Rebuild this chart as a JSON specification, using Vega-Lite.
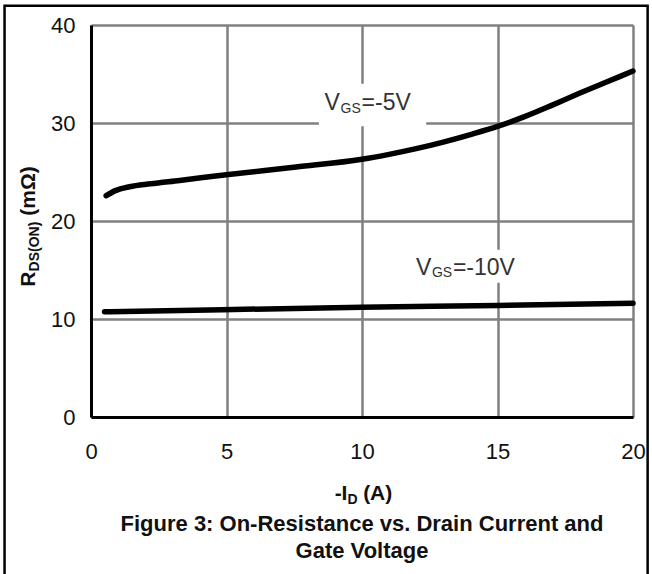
{
  "$schema": "https://vega.github.io/schema/vega-lite/v6.json",
  "width": 542,
  "height": 392,
  "autosize": {"type": "none"},
  "padding": {"left": 91, "top": 25, "right": 19, "bottom": 157},
  "background": "white",
  "config": {"view": {"stroke": null}, "font": "Liberation Sans"},
  "datasets": {
    "curves": [
      {"vgs": "-5V", "id": 0.56, "r": 22.58},
      {"vgs": "-5V", "id": 0.9, "r": 23.1},
      {"vgs": "-5V", "id": 1.42, "r": 23.5},
      {"vgs": "-5V", "id": 2.2, "r": 23.8},
      {"vgs": "-5V", "id": 3.27, "r": 24.14},
      {"vgs": "-5V", "id": 4.99, "r": 24.72},
      {"vgs": "-5V", "id": 7.57, "r": 25.51},
      {"vgs": "-5V", "id": 10.0, "r": 26.3},
      {"vgs": "-5V", "id": 11.0, "r": 26.8},
      {"vgs": "-5V", "id": 12.0, "r": 27.38},
      {"vgs": "-5V", "id": 13.0, "r": 28.05},
      {"vgs": "-5V", "id": 14.0, "r": 28.82},
      {"vgs": "-5V", "id": 15.0, "r": 29.65},
      {"vgs": "-5V", "id": 16.0, "r": 30.65},
      {"vgs": "-5V", "id": 17.0, "r": 31.8},
      {"vgs": "-5V", "id": 18.0, "r": 33.0},
      {"vgs": "-5V", "id": 19.0, "r": 34.15},
      {"vgs": "-5V", "id": 20.0, "r": 35.3},
      {"vgs": "-10V", "id": 0.5, "r": 10.74},
      {"vgs": "-10V", "id": 4.85, "r": 10.95},
      {"vgs": "-10V", "id": 10.0, "r": 11.19},
      {"vgs": "-10V", "id": 15.0, "r": 11.38},
      {"vgs": "-10V", "id": 20.0, "r": 11.6}
    ],
    "boxes": [
      {"label": "-5V", "x": 8.41, "x2": 12.37, "y": 34.0, "y2": 29.67},
      {"label": "-10V", "x": 11.79, "x2": 15.81, "y": 17.07, "y2": 13.7}
    ],
    "frame": [
      {"x": -3.19, "x2": 20.54, "y": 41.97, "y2": -16.6}
    ],
    "ann": [
      {"key": "v5", "x": 8.62, "y": 31.3},
      {"key": "v10", "x": 11.99, "y": 14.52},
      {"key": "xt", "x": 8.99, "y": -8.45},
      {"key": "yt", "x": -2.08, "y": 13.3},
      {"key": "cap", "x": 10.0, "y": -11.6}
    ]
  },
  "layer": [
    {
      "data": {"name": "boxes"},
      "mark": {"type": "rect", "fill": "white", "stroke": null, "clip": false},
      "encoding": {
        "x": {"field": "x", "type": "quantitative", "scale": {"domain": [0, 20], "nice": false, "zero": false},
          "axis": {"values": [0, 5, 10, 15, 20], "title": null, "grid": true, "gridColor": "#808080", "gridWidth": 2.5, "gridOpacity": 1,
            "domain": true, "domainColor": "#000000", "domainWidth": 3, "ticks": false, "labelFontSize": 22, "labelFont": "Liberation Sans",
            "labelColor": "#111111", "labelPadding": 24, "labelFlush": false, "labelOverlap": false}},
        "x2": {"field": "x2"},
        "y": {"field": "y", "type": "quantitative", "scale": {"domain": [0, 40], "nice": false, "zero": false},
          "axis": {"values": [0, 10, 20, 30, 40], "title": null, "grid": true, "gridColor": "#808080", "gridWidth": 2.5, "gridOpacity": 1,
            "domain": true, "domainColor": "#000000", "domainWidth": 3, "ticks": false, "labelFontSize": 22, "labelFont": "Liberation Sans",
            "labelColor": "#111111", "labelPadding": 16, "labelFlush": false, "labelOverlap": false}},
        "y2": {"field": "y2"}
      }
    },
    {
      "data": {"name": "frame"},
      "mark": {"type": "rect", "fill": null, "stroke": "#000000", "strokeWidth": 2.5, "clip": false},
      "encoding": {
        "x": {"field": "x", "type": "quantitative"},
        "x2": {"field": "x2"},
        "y": {"field": "y", "type": "quantitative"},
        "y2": {"field": "y2"}
      }
    },
    {
      "data": {"name": "curves"},
      "mark": {"type": "line", "color": "#000000", "strokeWidth": 5.5, "strokeCap": "round", "interpolate": "monotone", "clip": false},
      "encoding": {
        "x": {"field": "id", "type": "quantitative"},
        "y": {"field": "r", "type": "quantitative"},
        "detail": {"field": "vgs"}
      }
    },
    {
      "data": {"name": "ann"},
      "transform": [{"filter": "datum.key === 'v5' || datum.key === 'v10'"}],
      "mark": {"type": "text", "text": "V", "align": "left", "baseline": "alphabetic", "fontSize": 23, "color": "#333333", "clip": false},
      "encoding": {"x": {"field": "x", "type": "quantitative"}, "y": {"field": "y", "type": "quantitative"}}
    },
    {
      "data": {"name": "ann"},
      "transform": [{"filter": "datum.key === 'v5' || datum.key === 'v10'"}],
      "mark": {"type": "text", "text": "GS", "align": "left", "baseline": "alphabetic", "fontSize": 14, "dx": 16, "dy": 2.5, "color": "#333333", "clip": false},
      "encoding": {"x": {"field": "x", "type": "quantitative"}, "y": {"field": "y", "type": "quantitative"}}
    },
    {
      "data": {"name": "ann"},
      "transform": [{"filter": "datum.key === 'v5'"}],
      "mark": {"type": "text", "text": "=-5V", "align": "left", "baseline": "alphabetic", "fontSize": 23, "dx": 37, "color": "#333333", "clip": false},
      "encoding": {"x": {"field": "x", "type": "quantitative"}, "y": {"field": "y", "type": "quantitative"}}
    },
    {
      "data": {"name": "ann"},
      "transform": [{"filter": "datum.key === 'v10'"}],
      "mark": {"type": "text", "text": "=-10V", "align": "left", "baseline": "alphabetic", "fontSize": 23, "dx": 37, "color": "#333333", "clip": false},
      "encoding": {"x": {"field": "x", "type": "quantitative"}, "y": {"field": "y", "type": "quantitative"}}
    },
    {
      "data": {"name": "ann"},
      "transform": [{"filter": "datum.key === 'xt'"}],
      "mark": {"type": "text", "text": "-I", "align": "left", "baseline": "alphabetic", "fontSize": 21, "fontWeight": "bold", "color": "#111111", "clip": false},
      "encoding": {"x": {"field": "x", "type": "quantitative"}, "y": {"field": "y", "type": "quantitative"}}
    },
    {
      "data": {"name": "ann"},
      "transform": [{"filter": "datum.key === 'xt'"}],
      "mark": {"type": "text", "text": "D", "align": "left", "baseline": "alphabetic", "fontSize": 14, "fontWeight": "bold", "dx": 12.8, "dy": 4, "color": "#111111", "clip": false},
      "encoding": {"x": {"field": "x", "type": "quantitative"}, "y": {"field": "y", "type": "quantitative"}}
    },
    {
      "data": {"name": "ann"},
      "transform": [{"filter": "datum.key === 'xt'"}],
      "mark": {"type": "text", "text": "(A)", "align": "left", "baseline": "alphabetic", "fontSize": 21, "fontWeight": "bold", "dx": 28.5, "color": "#111111", "clip": false},
      "encoding": {"x": {"field": "x", "type": "quantitative"}, "y": {"field": "y", "type": "quantitative"}}
    },
    {
      "data": {"name": "ann"},
      "transform": [{"filter": "datum.key === 'yt'"}],
      "mark": {"type": "text", "text": "R", "angle": 270, "align": "left", "baseline": "alphabetic", "fontSize": 21, "fontWeight": "bold", "color": "#111111", "clip": false},
      "encoding": {"x": {"field": "x", "type": "quantitative"}, "y": {"field": "y", "type": "quantitative"}}
    },
    {
      "data": {"name": "ann"},
      "transform": [{"filter": "datum.key === 'yt'"}],
      "mark": {"type": "text", "text": "DS(ON)", "angle": 270, "align": "left", "baseline": "alphabetic", "fontSize": 14, "fontWeight": "bold", "dx": 15.2, "dy": 4, "color": "#111111", "clip": false},
      "encoding": {"x": {"field": "x", "type": "quantitative"}, "y": {"field": "y", "type": "quantitative"}}
    },
    {
      "data": {"name": "ann"},
      "transform": [{"filter": "datum.key === 'yt'"}],
      "mark": {"type": "text", "text": "(mΩ)", "angle": 270, "align": "left", "baseline": "alphabetic", "fontSize": 21, "fontWeight": "bold", "dx": 71, "color": "#111111", "clip": false},
      "encoding": {"x": {"field": "x", "type": "quantitative"}, "y": {"field": "y", "type": "quantitative"}}
    },
    {
      "data": {"name": "ann"},
      "transform": [{"filter": "datum.key === 'cap'"}],
      "mark": {"type": "text", "text": ["Figure 3: On-Resistance vs. Drain Current and", "Gate Voltage"], "align": "center", "baseline": "alphabetic", "lineHeight": 27, "fontSize": 22, "fontWeight": "bold", "color": "#111111", "clip": false},
      "encoding": {"x": {"field": "x", "type": "quantitative"}, "y": {"field": "y", "type": "quantitative"}}
    }
  ]
}
